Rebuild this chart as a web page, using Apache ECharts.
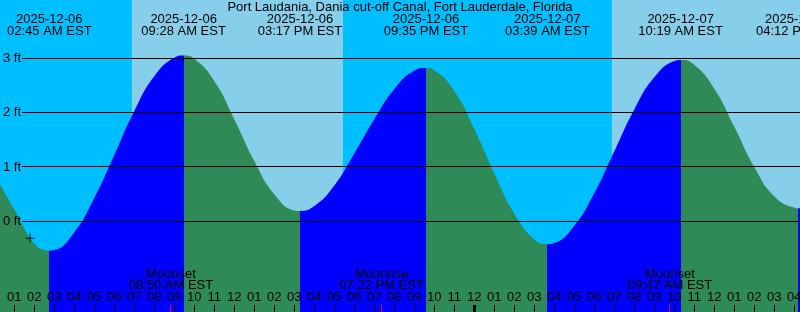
<!DOCTYPE html>
<html><head><meta charset="utf-8">
<script src="https://cdn.jsdelivr.net/npm/echarts@6/dist/echarts.min.js"></script>
<style>html,body{margin:0;padding:0;background:#00BFFF}#c{width:800px;height:312px}</style>
</head><body><div id="c"></div>
<script>
// ---- data (hours are counted from 2025-12-06 00:00 EST) ----
const chartTitle = 'Port Laudania, Dania cut-off Canal, Fort Lauderdale, Florida';
const curveHours = [0,0.5,1,1.5,2,2.5,2.75,3,4,5,6,7,8,9,9.467,10,11,12,13,14,15,15.283,16,17,18,19,20,21,21.583,22,23,24,25,26,27,27.65,28,29,30,31,32,33,34,34.317,35,36,37,38,39,40,40.2,41];
const curveLevels = [0.87,0.54,0.22,-0.13,-0.41,-0.53,-0.54,-0.53,-0.20,0.43,1.22,2.03,2.67,3.01,3.05,2.99,2.58,1.88,1.11,0.50,0.20,0.19,0.28,0.66,1.25,1.88,2.43,2.77,2.82,2.78,2.40,1.70,0.88,0.14,-0.33,-0.42,-0.40,-0.08,0.52,1.29,2.06,2.65,2.95,2.97,2.88,2.44,1.74,1.00,0.46,0.25,0.24,0.34];
const tideEventTimes = ['2025-12-06 02:45','2025-12-06 09:28','2025-12-06 15:17','2025-12-06 21:35','2025-12-07 03:39','2025-12-07 10:19','2025-12-07 16:12'];
const tideEventTypes = ['low','high','low','high','low','high','low'];
const sunEventTimes = ['2025-12-06 06:53','2025-12-06 17:26','2025-12-07 06:53'];
const moonEventTimes = ['2025-12-06 08:50','2025-12-06 19:22','2025-12-07 09:47'];
const moonEventNames = ['Moonset','Moonrise','Moonset'];
const levelTicks = [0,1,2,3];
const hourNames = ['12','01','02','03','04','05','06','07','08','09','10','11'];
const nowMark = [[1.785,-0.31]];

const C_NIGHT='#00BFFF', C_DAY='#87CEEB', C_RISE='#0000FF', C_FALL='#2E8B57';
const FONT='Liberation Sans';

function toHours(s){const [d,t]=s.split(' ');const day=+d.slice(8,10)-6;const [H,M]=t.split(':').map(Number);return day*24+H+M/60;}
function fmt12(s){const t=s.split(' ')[1];let [H,M]=t.split(':').map(Number);const ap=H<12?'AM':'PM';let h=H%12;if(h===0)h=12;return String(h).padStart(2,'0')+':'+String(M).padStart(2,'0')+' '+ap+' EST';}

const X_MIN=0, X_MAX=41;
const tideH = tideEventTimes.map(toHours);
const pieces=[];
let edges=[X_MIN-1].concat(tideH).concat([X_MAX+1]);
for(let i=0;i<edges.length-1;i++){
  let rising;
  if(i<tideH.length) rising = tideEventTypes[i]==='high';
  else rising = tideEventTypes[tideH.length-1]==='low';
  pieces.push({gte:edges[i], lt:edges[i+1], color: rising?C_RISE:C_FALL});
}
const sunH = sunEventTimes.map(toHours);
const bandEdges=[X_MIN].concat(sunH).concat([X_MAX]);
const bands=[];
for(let i=0;i<bandEdges.length-1;i++){
  const day = i%2===1;
  bands.push([{xAxis:bandEdges[i], itemStyle:{color: day?C_DAY:C_NIGHT, opacity:1}},{xAxis:bandEdges[i+1]}]);
}

const chart=echarts.init(document.getElementById('c'),null,{renderer:'canvas'});
chart.setOption({
  animation:false,
  backgroundColor:C_NIGHT,
  grid:{left:-5.7,right:-14.3,top:0,bottom:0,containLabel:false,outerBoundsMode:'none'},
  xAxis:{type:'value',min:X_MIN,max:X_MAX,interval:1,z:10,position:'bottom',
    axisLine:{show:false,onZero:false},splitLine:{show:false},
    axisTick:{show:false},
    axisLabel:{show:true,inside:true,margin:8,color:'#000',fontFamily:FONT,fontSize:13,showMinLabel:false,showMaxLabel:true,hideOverlap:false,
      formatter:v=>hourNames[Math.round(v)%12]}},
  yAxis:{type:'value',min:-1.669,max:4.073,show:false},
  visualMap:{type:'piecewise',show:false,dimension:0,seriesIndex:1,pieces:pieces},
  series:[
    {type:'line',name:'sky',data:[],z:1,silent:true,markArea:{silent:true,z:1,data:bands}},
    {type:'line',name:'tide',data:curveHours.map((h,i)=>[h,curveLevels[i]]),smooth:true,showSymbol:false,
      lineStyle:{width:0},areaStyle:{opacity:1,origin:'start'},z:2,silent:true},
    {type:'scatter',name:'mark',data:nowMark,symbol:'path://M4,0h1v9h-1z M0,4h9v1h-9z',symbolSize:9,
      itemStyle:{color:'#000'},z:6,silent:true}
  ]
});

const px=h=>chart.convertToPixel({xAxisIndex:0},h);
const py=v=>chart.convertToPixel({yAxisIndex:0},v);
const g=[];
function txt(x,y,text,align){g.push({type:'text',x:x,y:y,z:100,silent:true,style:{text:text,fill:'#000',fontSize:13,fontFamily:FONT,align:align||'center',verticalAlign:'middle'}});}
function rect(x,y,w,h,c){g.push({type:'rect',z:99,silent:true,shape:{x:x,y:y,width:w,height:h},style:{fill:c}});}
function vline(x,y1,y2,w,c){g.push({type:'line',z:99,silent:true,shape:{x1:x,y1:y1,x2:x,y2:y2},style:{stroke:c,lineWidth:w}});}

levelTicks.forEach(v=>{const y=py(v);rect(22,Math.floor(y),800,1,'#000');txt(3,y,v+' ft','left');});
txt(400,7.5,chartTitle);
tideEventTimes.forEach((s,i)=>{const x=px(tideH[i]);txt(x,19.5,s.split(' ')[0]);txt(x,31.3,fmt12(s));});
// hour ticks from the axis scale; midnight drawn bold
for(let h=X_MIN;h<=X_MAX;h++){
  const x=Math.floor(px(h))+0.5;
  vline(x,305,312,h%24===0?3:1,'#000');
}
moonEventTimes.forEach((s,i)=>{const x=px(toHours(s));txt(x,274,moonEventNames[i]);txt(x,285.5,fmt12(s));vline(Math.floor(x)+0.5,305,312,1,'#FF0000');});
chart.setOption({graphic:{elements:g}});
</script></body></html>
